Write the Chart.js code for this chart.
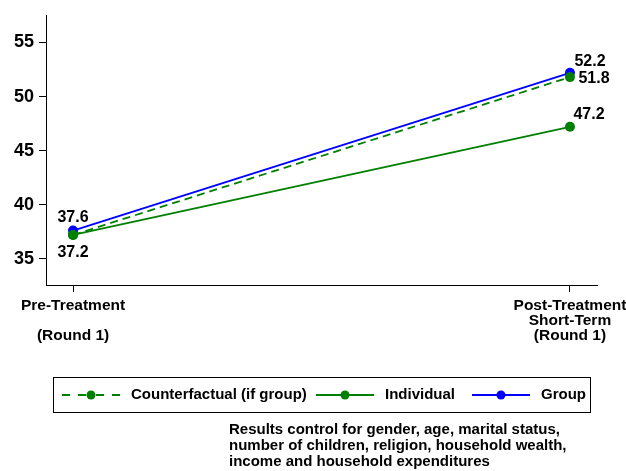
<!DOCTYPE html>
<html>
<head>
<meta charset="utf-8">
<script src="https://cdn.jsdelivr.net/npm/chart.js@4/dist/chart.umd.min.js"></script>
<style>
  body { margin: 0; background: #fff; }
  #wrap { position: relative; width: 626px; height: 471px; }
  #graphique { position: absolute; left: 0; top: 0; }
  #note { position: absolute; left: 229px; top: 421px; font: bold 15px "Liberation Sans", Arial, sans-serif; line-height: 16px; color: #000; white-space: nowrap; }
</style>
</head>
<body>
<div id="wrap">
  <canvas id="graphique" width="626" height="471"></canvas>
  <div id="note">Results control for gender, age, marital status,<br>number of children, religion, household wealth,<br>income and household expenditures</div>
</div>
<script>
// Categories (x axis)
const periodes = [["Pre-Treatment", "", "(Round 1)"], ["Post-Treatment", "Short-Term", "(Round 1)"]];
// Series
const counterfactual = [37.2, 51.8];
const individuel = [37.2, 47.2];
const groupe = [37.6, 52.2];
const nomsSeries = ["Counterfactual (if group)", "Individual", "Group"];
// Y ticks
const ticksY = [35, 40, 45, 50, 55];

const police = "'Liberation Sans', Arial, sans-serif";
const vert = "#008000";
const bleu = "#0000ff";

function points(valeurs) {
  return valeurs.map((v, i) => ({ x: i, y: v }));
}

// Position de chaque etiquette par rapport a son point (null = pas d'etiquette)
const positionsEtiquettes = [
  [[0, 18], [24, 1]],
  [null, [19, -12]],
  [[0, -13], [20, -11]]
];

const pluginEtiquettes = {
  id: "etiquettes",
  afterDatasetsDraw(chart) {
    const ctx = chart.ctx;
    ctx.save();
    ctx.font = "bold 16px " + police;
    ctx.fillStyle = "#000";
    ctx.textAlign = "center";
    ctx.textBaseline = "middle";
    chart.data.datasets.forEach((ds, i) => {
      const meta = chart.getDatasetMeta(i);
      meta.data.forEach((pt, j) => {
        const pos = positionsEtiquettes[i][j];
        if (!pos) return;
        ctx.fillText(ds.data[j].y.toFixed(1), pt.x + pos[0], pt.y + pos[1]);
      });
    });
    ctx.restore();
  }
};

// Legende dessinee a la main (ligne + point, comme dans la figure)
const pluginLegende = {
  id: "legende",
  afterDraw(chart) {
    const ctx = chart.ctx;
    ctx.save();
    ctx.strokeStyle = "#000";
    ctx.lineWidth = 1;
    ctx.strokeRect(53.5, 377.5, 537, 35);
    const yc = 395;
    const symboles = [62, 316, 472];
    ctx.font = "bold 15px " + police;
    ctx.textBaseline = "middle";
    ctx.textAlign = "left";
    chart.data.datasets.forEach((ds, i) => {
      const x0 = symboles[i];
      const xm = x0 + 29;
      ctx.strokeStyle = ds.borderColor;
      ctx.lineWidth = 2;
      ctx.setLineDash(ds.borderDash ? [8, 8] : []);
      // deux moities symetriques autour du point
      ctx.beginPath();
      ctx.moveTo(x0, yc);
      ctx.lineTo(xm, yc);
      ctx.moveTo(x0 + 58, yc);
      ctx.lineTo(xm, yc);
      ctx.stroke();
      ctx.setLineDash([]);
      ctx.fillStyle = ds.pointBackgroundColor;
      ctx.beginPath();
      ctx.arc(xm, yc, 4.5, 0, Math.PI * 2);
      ctx.fill();
      ctx.fillStyle = "#000";
      ctx.fillText(ds.label, x0 + 69, yc);
    });
    ctx.restore();
  }
};

const data = {
  datasets: [
    {
      label: nomsSeries[0],
      data: points(counterfactual),
      borderColor: vert,
      backgroundColor: vert,
      pointBackgroundColor: vert,
      borderDash: [8, 5],
      borderWidth: 1.8,
      pointRadius: 5,
      pointBorderWidth: 0
    },
    {
      label: nomsSeries[1],
      data: points(individuel),
      borderColor: vert,
      backgroundColor: vert,
      pointBackgroundColor: vert,
      borderWidth: 1.8,
      pointRadius: 5,
      pointBorderWidth: 0
    },
    {
      label: nomsSeries[2],
      data: points(groupe),
      borderColor: bleu,
      backgroundColor: bleu,
      pointBackgroundColor: bleu,
      borderWidth: 1.8,
      pointRadius: 5,
      pointBorderWidth: 0
    }
  ]
};

const config = {
  type: "line",
  data: data,
  options: {
    responsive: false,
    animation: false,
    layout: { padding: { left: 0, top: 8, right: 29, bottom: 0 } },
    plugins: { legend: { display: false }, tooltip: { enabled: false } },
    scales: {
      x: {
        type: "linear",
        min: -0.0544,
        max: 1.0544,
        afterBuildTicks: (s) => { s.ticks = periodes.map((p, i) => ({ value: i })); },
        afterFit: (s) => {
          s.height = 186;
          // pas de marge supplementaire pour les libelles qui debordent
          s.paddingLeft = 0;
          s.paddingRight = 0;
        },
        ticks: {
          callback: (v) => periodes[v],
          color: "#000",
          font: { family: police, size: 15.5, weight: "bold", lineHeight: 0.97 },
          padding: 6,
          maxRotation: 0
        },
        grid: { drawOnChartArea: false, tickLength: 7, color: "#000" },
        border: { color: "#000", width: 1 }
      },
      y: {
        min: 32.57,
        max: 57.47,
        afterBuildTicks: (s) => { s.ticks = ticksY.map(v => ({ value: v })); },
        afterFit: (s) => { s.width = 46; },
        ticks: {
          color: "#000",
          font: { family: police, size: 18, weight: "bold" },
          padding: 5
        },
        grid: { drawOnChartArea: false, tickLength: 7, color: "#000" },
        border: { color: "#000", width: 1 }
      }
    }
  },
  plugins: [pluginEtiquettes, pluginLegende]
};

new Chart(document.querySelector("#graphique"), config);
</script>
</body>
</html>
